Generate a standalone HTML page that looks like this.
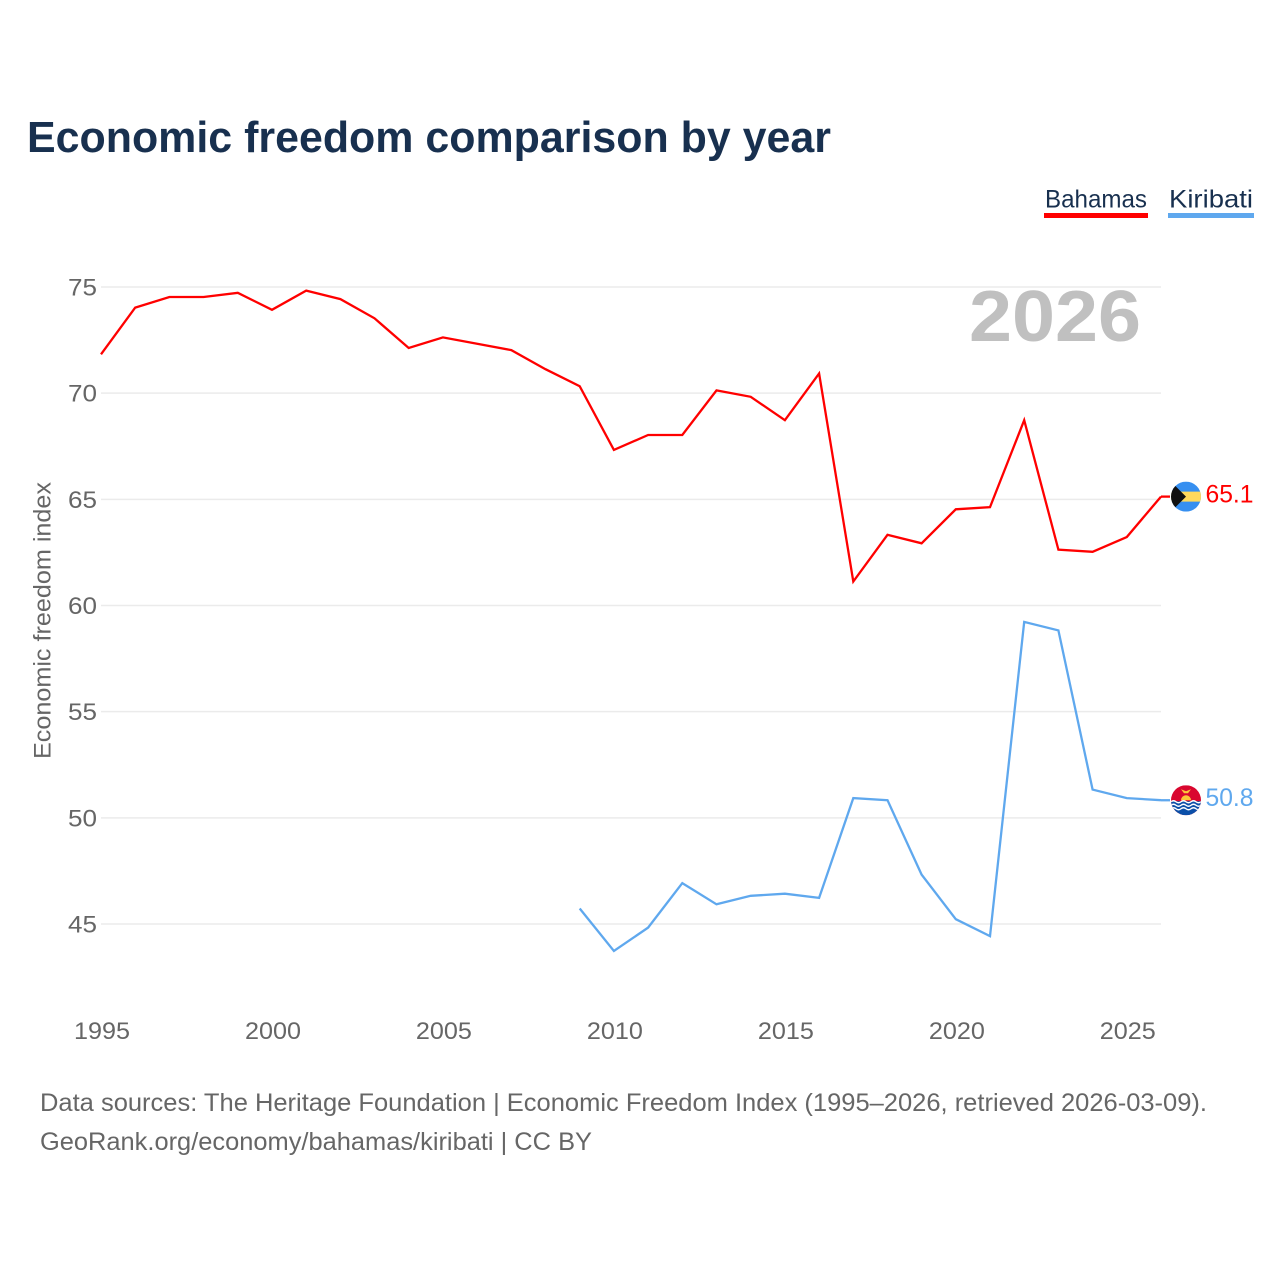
<!DOCTYPE html>
<html lang="en">
<head>
<meta charset="utf-8">
<title>Economic freedom comparison by year</title>
<style>
html,body{margin:0;padding:0;background:#fff;width:1280px;height:1280px;overflow:hidden}
svg{display:block}
text{font-family:"Liberation Sans",sans-serif}
</style>
</head>
<body>
<svg id="chart" width="1280" height="1280" viewBox="0 0 1280 1280" xmlns="http://www.w3.org/2000/svg">
<defs>
<clipPath id="flag-clip-a"><circle cx="0" cy="0" r="15"/></clipPath>
<clipPath id="flag-clip-b"><circle cx="0" cy="0" r="15"/></clipPath>
</defs>
<rect width="1280" height="1280" fill="#fff"/>
<text x="27" y="152" font-size="44" font-weight="700" fill="#18304f" textLength="804" lengthAdjust="spacingAndGlyphs">Economic freedom comparison by year</text>

<g>
<text x="1045" y="207.5" font-size="25" fill="#18304f" textLength="102" lengthAdjust="spacingAndGlyphs">Bahamas</text>
<rect x="1044" y="213" width="104" height="5" fill="#ff0000"/>
</g>
<g>
<text x="1169" y="207.5" font-size="25" fill="#18304f" textLength="84" lengthAdjust="spacingAndGlyphs">Kiribati</text>
<rect x="1168" y="213" width="86" height="5" fill="#5fa8ee"/>
</g>

<g id="grid"></g>
<text x="969" y="341" font-size="72" font-weight="700" fill="#c0c0c0" textLength="172" lengthAdjust="spacingAndGlyphs">2026</text>
<g id="yticks"></g>
<g id="xticks"></g>
<text transform="translate(50.5,759) rotate(-90)" x="0" y="0" font-size="24" fill="#666666" textLength="277" lengthAdjust="spacingAndGlyphs">Economic freedom index</text>
<g id="series"></g>

<text x="40" y="1111" font-size="25" fill="#666666" textLength="1167" lengthAdjust="spacingAndGlyphs">Data sources: The Heritage Foundation | Economic Freedom Index (1995–2026, retrieved 2026-03-09).</text>
<text x="40" y="1150" font-size="25" fill="#666666" textLength="552" lengthAdjust="spacingAndGlyphs">GeoRank.org/economy/bahamas/kiribati | CC BY</text>
</svg>
<script>
const years = [1995,1996,1997,1998,1999,2000,2001,2002,2003,2004,2005,2006,2007,2008,2009,2010,2011,2012,2013,2014,2015,2016,2017,2018,2019,2020,2021,2022,2023,2024,2025,2026];
const bahamasValues = [71.8,74.0,74.5,74.5,74.7,73.9,74.8,74.4,73.5,72.1,72.6,72.3,72.0,71.1,70.3,67.3,68.0,68.0,70.1,69.8,68.7,70.9,61.1,63.3,62.9,64.5,64.6,68.7,62.6,62.5,63.2,65.1];
const kiribatiValues = [null,null,null,null,null,null,null,null,null,null,null,null,null,null,45.7,43.7,44.8,46.9,45.9,46.3,46.4,46.2,50.9,50.8,47.3,45.2,44.4,59.2,58.8,51.3,50.9,50.8];
const yTickLabels = [45,50,55,60,65,70,75];
const xTickLabels = [1995,2000,2005,2010,2015,2020,2025];

const NS = 'http://www.w3.org/2000/svg';
function xScale(year){ return 101 + (year - 1995) * (1060 / 31); }
function yScale(v){ return 924 - (v - 45) * (637 / 30); }
function make(tag, attrs, parent){
  const el = document.createElementNS(NS, tag);
  for (const k in attrs) el.setAttribute(k, attrs[k]);
  parent.appendChild(el);
  return el;
}

const grid = document.getElementById('grid');
const yticks = document.getElementById('yticks');
yTickLabels.forEach(function(v){
  const line = make('line', {x1:101, x2:1161, y1:yScale(v), y2:yScale(v), stroke:'#ebebeb', 'stroke-width':1.5}, grid);
  
  
  const t = make('text', {x:68, y:yScale(v)+8.5, 'font-size':24, fill:'#666666', textLength:29, lengthAdjust:'spacingAndGlyphs'}, yticks);
  
  
  t.textContent = v;
});

const xticks = document.getElementById('xticks');
xTickLabels.forEach(function(y){
  const t = make('text', {x:xScale(y)-27, y:1039, 'font-size':24, fill:'#666666', textLength:56, lengthAdjust:'spacingAndGlyphs'}, xticks);
  
  
  t.textContent = y;
});

const series = document.getElementById('series');
function drawLine(values, color, name){
  let pts = [], last = null;
  values.forEach(function(v, i){
    if (v === null) return;
    last = [xScale(years[i]), yScale(v) - 0.6];
    pts.push(last[0].toFixed(1) + ',' + last[1].toFixed(1));
  });
  const p = make('polyline', {points:pts.join(' '), fill:'none', stroke:color, 'stroke-width':2.3, 'stroke-linejoin':'miter'}, series);
  
  
  const c = make('line', {x1:last[0], x2:last[0]+9, y1:last[1], y2:last[1], stroke:color, 'stroke-width':2.3}, series);
  
  
  return last;
}
function endLabel(last, value, color, name){
  const t = make('text', {x:1205.5, y:last[1]+6, 'font-size':25, fill:color, textLength:48, lengthAdjust:'spacingAndGlyphs'}, series);
  
  
  t.textContent = value.toFixed(1);
}

const endB = drawLine(bahamasValues, '#ff0000', 'bahamas');
const endK = drawLine(kiribatiValues, '#5fa8ee', 'kiribati');

const flagB = make('g', {transform:'translate(1186,' + endB[1] + ')', 'clip-path':'url(#flag-clip-a)'}, series);


make('rect', {x:-15, y:-15, width:30, height:30, fill:'#368ff0'}, flagB);
make('rect', {x:-15, y:-5, width:30, height:10, fill:'#ffd95c'}, flagB);
make('path', {d:'M-15,-15 L0,0 L-15,15 Z', fill:'#111111'}, flagB);

const flagK = make('g', {transform:'translate(1186,' + endK[1] + ')', 'clip-path':'url(#flag-clip-b)'}, series);


make('rect', {x:-15, y:-15, width:30, height:30, fill:'#d9062f'}, flagK);
make('rect', {x:-15, y:1, width:30, height:14, fill:'#0b4fa8'}, flagK);
make('path', {d:'M-5,0 A5,5 0 0 1 5,0 Z', fill:'#fcc63a'}, flagK);
make('path', {d:'M-5,-11 L0,-9 L5,-11 L2,-7 L-2,-7 Z', fill:'#fcc63a'}, flagK);
[1.5,5,8.5].forEach(function(o){
  make('path', {d:'M-15,'+o+' q2.5,-2 5,0 t5,0 t5,0 t5,0 t5,0 t5,0', fill:'none', stroke:'#ffffff', 'stroke-width':1.4}, flagK);
});

endLabel(endB, bahamasValues[bahamasValues.length-1], '#ff0000', 'bahamas');
endLabel(endK, kiribatiValues[kiribatiValues.length-1], '#5fa8ee', 'kiribati');
</script>
</body>
</html>
